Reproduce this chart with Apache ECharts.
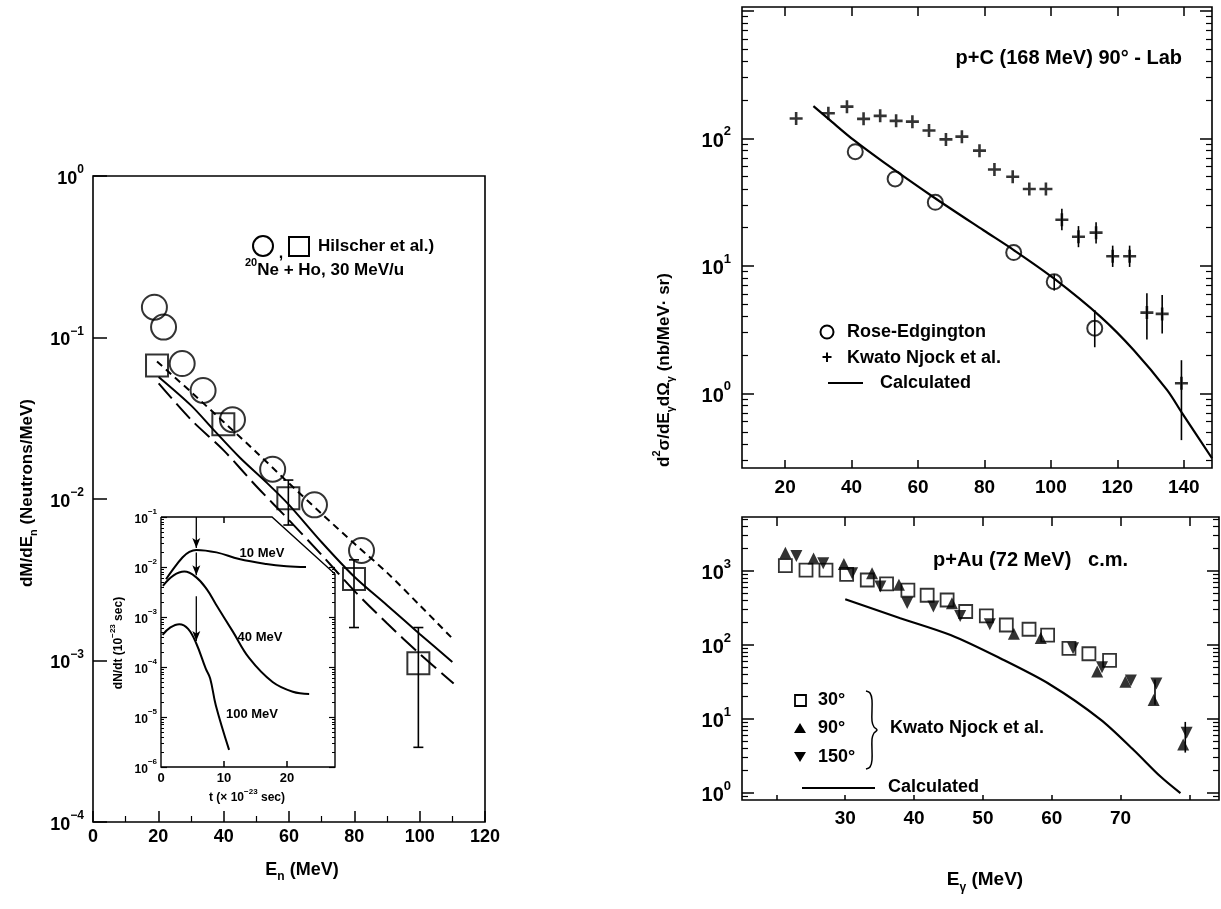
<!DOCTYPE html>
<html>
<head>
<meta charset="utf-8">
<script src="https://cdn.jsdelivr.net/npm/echarts@6/dist/echarts.min.js"></script>
<style>
  html, body { margin: 0; background: #fff; }
  #main { width: 1221px; height: 909px; }
</style>
</head>
<body>
<div id="main"></div>
<script>
// ---------- left panel: 20Ne + Ho, neutron spectra ----------
const hilscherCircles = [[18.8, 0.154], [21.6, 0.116], [27.3, 0.069], [33.7, 0.047], [42.7, 0.031], [55, 0.0153], [67.8, 0.0092], [82.2, 0.0048]];
const hilscherSquares = [[19.6, 0.067], [39.9, 0.029], [59.8, 0.0101], [79.9, 0.0032], [99.6, 0.00096]];
const hilscherErrors = [[59.8, 0.0069, 0.0131], [79.9, 0.0016, 0.0042], [99.6, 0.00029, 0.0016]];
const curveShortDash = [[19.6, 0.071], [30, 0.046], [40, 0.030], [50, 0.0195], [60, 0.0125], [70, 0.0081], [80, 0.0053], [90, 0.0035], [100, 0.0022], [110, 0.00137]];
const curveSolid = [[20.1, 0.057], [30, 0.038], [37, 0.0267], [45, 0.018], [53.4, 0.0125], [60, 0.0092], [70, 0.0054], [80, 0.0033], [90, 0.0022], [100, 0.00146], [110, 0.00098]];
const curveLongDash = [[20.1, 0.052], [30, 0.031], [40, 0.020], [50, 0.012], [60, 0.0074], [70, 0.0045], [80, 0.0027], [90, 0.0017], [100, 0.0011], [110.4, 0.00072]];
const leftDecades = [1e-4, 1e-3, 1e-2, 1e-1, 1];

// inset: dN/dt versus time
const inset10 = [[0.8, 0.0057], [1.7, 0.0083], [3.4, 0.0155], [4.5, 0.020], [5.6, 0.022], [8.8, 0.0196], [12.4, 0.0144], [16.7, 0.0115], [19.9, 0.0104], [23, 0.010]];
const inset40 = [[0.3, 0.0042], [2, 0.0068], [3.7, 0.0081], [5.6, 0.0062], [7.25, 0.0036], [8.7, 0.0018], [11.4, 5.1e-4], [14, 1.5e-4], [17.7, 5e-5], [20.9, 3.2e-5], [23.5, 2.9e-5]];
const inset100 = [[0.25, 4.4e-4], [1.5, 6.2e-4], [2.9, 7.2e-4], [4.3, 5.8e-4], [5.6, 2.95e-4], [7.1, 9.3e-5], [7.8, 5.9e-5], [8.7, 1.7e-5], [10.8, 2.2e-6]];
const insetArrows = [[5.6, 0.1, 0.024], [5.6, 0.0195, 0.0068], [5.6, 0.0026, 0.00033]];
const tTicks = [0, 10, 20];
const insetDecades = [1e-6, 1e-5, 1e-4, 1e-3, 1e-2, 1e-1];

// ---------- top right: p+C (168 MeV) ----------
const roseEdgington = [[41.1, 78.5], [53.1, 48], [65.2, 31.5], [88.8, 12.7], [101, 7.5], [113.2, 3.24]];
const roseErrors = [[101, 6.4, 8.6], [113.2, 2.3, 4.5]];
const kwatoC = [[23.3, 143], [33.0, 157], [38.6, 177], [43.6, 142], [48.6, 150], [53.4, 137], [58.3, 135], [63.3, 115], [68.4, 98], [73.2, 103], [78.5, 80], [83.0, 57], [88.5, 50], [93.5, 40], [98.5, 40], [103.3, 23], [108.3, 16.9], [113.6, 18.2], [118.6, 11.9], [123.7, 11.9], [128.9, 4.3], [133.5, 4.2], [139.3, 1.2]];
const kwatoCErrors = [[103.3, 19, 28], [108.3, 14, 20.5], [113.6, 15, 22], [118.6, 9.8, 14.4], [123.7, 9.8, 14.4], [128.9, 2.65, 6.1], [133.5, 2.95, 5.9], [139.3, 0.43, 1.82]];
const calcC = [[28.5, 179], [34, 135], [40.6, 97], [49.6, 65], [64.7, 34.5], [79.7, 19], [88.8, 13.3], [100.8, 8.0], [114.9, 4.0], [124.9, 2.19], [135, 1.06], [139.5, 0.70], [148.5, 0.31]];
const egTopTicks = [20, 40, 60, 80, 100, 120, 140];
const topDecades = [1, 10, 100];

// ---------- bottom right: p+Au (72 MeV) ----------
const au30 = [[21.3, 1180], [24.3, 1030], [27.2, 1030], [30.2, 900], [33.2, 755], [36, 670], [39.1, 550], [41.9, 470], [44.8, 405], [47.5, 283], [50.5, 247], [53.4, 186], [56.7, 163], [59.4, 136], [62.5, 90], [65.4, 76], [68.4, 62]];
const au90 = [[21.3, 1770], [25.4, 1480], [29.8, 1240], [33.9, 930], [37.8, 650], [45.5, 365], [54.5, 142], [58.4, 124], [66.6, 43.7], [70.7, 31.7], [74.8, 18], [79.1, 4.5]];
const au150 = [[22.9, 1590], [26.8, 1270], [31, 930], [35.1, 615], [39, 370], [42.8, 330], [46.7, 247], [51, 190], [63.1, 90], [67.3, 50], [71.5, 33], [75.2, 30], [79.6, 6.5]];
const auErrors = [[75, 15.5, 34], [79.4, 3.5, 9.1]];
const calcAu = [[30, 415], [38, 230], [45.3, 136], [52.5, 66], [59.8, 29], [67.1, 9.8], [71.9, 3.8], [75.8, 1.66], [78.7, 0.99]];
const egBotTicks = [30, 40, 50, 60, 70];
const egBotTickMarks = [20, 30, 40, 50, 60, 70, 80];
const botDecades = [1, 10, 100, 1000];

const minorMult = [2, 3, 4, 5, 6, 7, 8, 9];

const FONT = '"Liberation Sans", Arial, sans-serif';

function minorLog(lo, hi) {
  const out = [];
  for (let k = Math.floor(Math.log10(lo)); k <= Math.ceil(Math.log10(hi)); k++) {
    minorMult.forEach(function (m) {
      const v = m * Math.pow(10, k);
      if (v > lo && v < hi) out.push(v);
    });
  }
  return out;
}

function fmtPow(v) {
  const e = Math.round(Math.log10(v));
  return '{b|10}{s|' + (e < 0 ? '\u2212' + (-e) : e) + '}';
}

function powRich(bs, ss) {
  return {
    b: { fontFamily: FONT, fontWeight: 'bold', fontSize: bs, color: '#000', lineHeight: bs + 6, verticalAlign: 'bottom' },
    s: { fontFamily: FONT, fontWeight: 'bold', fontSize: ss, color: '#000', lineHeight: ss, verticalAlign: 'top' }
  };
}

const textRich = function (bs) {
  return {
    b: { fontFamily: FONT, fontWeight: 'bold', fontSize: bs, fill: '#000', lineHeight: bs + 8, verticalAlign: 'middle' },
    sub: { fontFamily: FONT, fontWeight: 'bold', fontSize: Math.round(bs * 0.65), fill: '#000', lineHeight: bs + 8, verticalAlign: 'bottom' },
    sup: { fontFamily: FONT, fontWeight: 'bold', fontSize: Math.round(bs * 0.65), fill: '#000', lineHeight: Math.round(bs * 0.65), verticalAlign: 'top' }
  };
};

const black = { color: '#000', width: 1.5 };

function xAxisOf(grid, min, max, tickVals, labelVals, opt) {
  opt = opt || {};
  return {
    gridIndex: grid, type: 'value', min: min, max: max, position: opt.top ? 'top' : 'bottom',
    axisLine: { show: false },
    splitLine: { show: false },
    axisTick: { show: true, inside: true, length: opt.tickLen || 9, customValues: tickVals, lineStyle: black },
    axisLabel: labelVals ? {
      show: true, customValues: labelVals, color: '#000', fontFamily: FONT, fontWeight: 'bold',
      fontSize: opt.fontSize || 18, margin: opt.margin || 8
    } : { show: false }
  };
}

function yLogOf(grid, min, max, tickVals, labelVals, opt) {
  opt = opt || {};
  return {
    gridIndex: grid, type: 'log', logBase: 10, min: min, max: max, position: opt.right ? 'right' : 'left',
    axisLine: { show: false },
    splitLine: { show: false },
    axisTick: { show: true, inside: true, length: opt.tickLen || 10, customValues: tickVals, lineStyle: { color: '#000', width: opt.tickWidth || 1.5 } },
    axisLabel: labelVals ? {
      show: true, customValues: labelVals, formatter: fmtPow, rich: powRich(opt.bs || 18, opt.ss || 12), margin: opt.margin || 8
    } : { show: false }
  };
}

function errorBars(capHalf) {
  return function (params, api) {
    const hi = api.coord([api.value(0), api.value(2)]);
    const lo = api.coord([api.value(0), api.value(1)]);
    const st = { stroke: '#000', lineWidth: 1.6 };
    const children = [{ type: 'line', shape: { x1: hi[0], y1: hi[1], x2: lo[0], y2: lo[1] }, style: st }];
    if (capHalf) {
      children.push({ type: 'line', shape: { x1: hi[0] - capHalf, y1: hi[1], x2: hi[0] + capHalf, y2: hi[1] }, style: st });
      children.push({ type: 'line', shape: { x1: lo[0] - capHalf, y1: lo[1], x2: lo[0] + capHalf, y2: lo[1] }, style: st });
    }
    return { type: 'group', children: children };
  };
}

function arrowData(a) {
  return [{ value: [a[0], a[1]], symbol: 'none' }, { value: [a[0], a[2]], symbol: 'arrow', symbolSize: [6, 10], symbolRotate: 180 }];
}

const hollow = { color: 'rgba(0,0,0,0)', borderColor: '#000', borderWidth: 2 };
const plusPath = 'path://M4,0H6V4H10V6H6V10H4V6H0V4H4Z';

// inset box (clipped upper-right corner)
const inset = { left: 161, top: 517, width: 174, height: 250, cutX: 111, cutY: 57 };

const chart = echarts.init(document.getElementById('main'));

const option = {
  backgroundColor: '#fff',
  animation: false,
  grid: [
    { left: 93, top: 176, width: 392, height: 646, show: true, borderColor: '#000', borderWidth: 1.6 },
    { left: inset.left, top: inset.top, width: inset.width, height: inset.height, show: false },
    { left: 742, top: 7, width: 470, height: 461, show: true, borderColor: '#000', borderWidth: 1.6 },
    { left: 742, top: 517, width: 477, height: 283, show: true, borderColor: '#000', borderWidth: 1.6 }
  ],
  xAxis: [
    {
      gridIndex: 0, type: 'value', min: 0, max: 120, interval: 20,
      axisLine: { show: false }, splitLine: { show: false },
      axisTick: { inside: true, length: 11, lineStyle: black },
      minorTick: { show: true, splitNumber: 2, length: 6, lineStyle: { color: '#000', width: 1.2 } },
      axisLabel: { color: '#000', fontFamily: FONT, fontWeight: 'bold', fontSize: 18, margin: 6 }
    },
    xAxisOf(1, 0, 27.6, [10, 20], tTicks, { tickLen: 6, fontSize: 13, margin: 5 }),
    xAxisOf(1, 0, 27.6, [10], null, { top: true, tickLen: 6 }),
    xAxisOf(2, 7, 148.5, egTopTicks, egTopTicks, { tickLen: 8, fontSize: 19, margin: 10 }),
    xAxisOf(2, 7, 148.5, egTopTicks, null, { top: true, tickLen: 9 }),
    xAxisOf(3, 15, 84.3, egBotTickMarks, egBotTicks, { tickLen: 5, fontSize: 19, margin: 9 }),
    xAxisOf(3, 15, 84.3, egBotTickMarks, null, { top: true, tickLen: 9 })
  ],
  yAxis: [
    yLogOf(0, 1e-4, 1, leftDecades, leftDecades, { tickLen: 14, bs: 18, ss: 12, margin: 9 }),
    yLogOf(1, 1e-6, 1e-1, insetDecades, insetDecades, { tickLen: 6, bs: 12, ss: 8, margin: 4, tickWidth: 1.2 }),
    yLogOf(1, 1e-6, 1e-1, minorLog(1e-6, 1e-1), null, { tickLen: 3, tickWidth: 1 }),
    yLogOf(1, 1e-6, 1e-1, insetDecades.slice(0, 5), null, { right: true, tickLen: 6, tickWidth: 1.2 }),
    yLogOf(1, 1e-6, 1e-1, minorLog(1e-6, 1e-2), null, { right: true, tickLen: 3, tickWidth: 1 }),
    yLogOf(2, 0.26, 1070, [1, 10, 100, 1000], topDecades, { tickLen: 12, bs: 20, ss: 13, margin: 11 }),
    yLogOf(2, 0.26, 1070, minorLog(0.26, 1070), null, { tickLen: 6, tickWidth: 1.2 }),
    yLogOf(2, 0.26, 1070, [1, 10, 100, 1000], null, { right: true, tickLen: 12 }),
    yLogOf(2, 0.26, 1070, minorLog(0.26, 1070), null, { right: true, tickLen: 6, tickWidth: 1.2 }),
    yLogOf(3, 0.8, 5370, botDecades, botDecades, { tickLen: 12, bs: 20, ss: 13, margin: 11 }),
    yLogOf(3, 0.8, 5370, minorLog(0.8, 5370), null, { tickLen: 6, tickWidth: 1.2 }),
    yLogOf(3, 0.8, 5370, botDecades, null, { right: true, tickLen: 12 }),
    yLogOf(3, 0.8, 5370, minorLog(0.8, 5370), null, { right: true, tickLen: 6, tickWidth: 1.2 })
  ],
  series: [
    // left main panel
    { type: 'line', xAxisIndex: 0, yAxisIndex: 0, data: curveShortDash, smooth: 0.3, showSymbol: false, lineStyle: { color: '#000', width: 2, type: [7, 5] }, z: 2 },
    { type: 'line', xAxisIndex: 0, yAxisIndex: 0, data: curveSolid, smooth: 0.3, showSymbol: false, lineStyle: { color: '#000', width: 2 }, z: 2 },
    { type: 'line', xAxisIndex: 0, yAxisIndex: 0, data: curveLongDash, smooth: 0.3, showSymbol: false, lineStyle: { color: '#000', width: 2, type: [20, 7] }, z: 2 },
    { type: 'custom', xAxisIndex: 0, yAxisIndex: 0, data: hilscherErrors, encode: { x: 0, y: [1, 2] }, renderItem: errorBars(5), z: 3 },
    { type: 'scatter', xAxisIndex: 0, yAxisIndex: 0, data: hilscherCircles, symbol: 'circle', symbolSize: 25, itemStyle: hollow, z: 4 },
    { type: 'scatter', xAxisIndex: 0, yAxisIndex: 0, data: hilscherSquares, symbol: 'rect', symbolSize: 22, itemStyle: hollow, z: 4 },

    // inset
    { type: 'line', xAxisIndex: 1, yAxisIndex: 1, data: inset10, smooth: 0.4, showSymbol: false, lineStyle: { color: '#000', width: 2 } },
    { type: 'line', xAxisIndex: 1, yAxisIndex: 1, data: inset40, smooth: 0.4, showSymbol: false, lineStyle: { color: '#000', width: 2 } },
    { type: 'line', xAxisIndex: 1, yAxisIndex: 1, data: inset100, smooth: 0.4, showSymbol: false, lineStyle: { color: '#000', width: 2 } }
  ].concat(insetArrows.map(function (a) {
    return { type: 'line', xAxisIndex: 1, yAxisIndex: 1, data: arrowData(a), symbol: 'none', showSymbol: true,
      itemStyle: { color: '#000' }, lineStyle: { color: '#000', width: 1.3 } };
  })).concat([
    // top right
    { type: 'line', xAxisIndex: 3, yAxisIndex: 5, data: calcC, smooth: 0.3, showSymbol: false, lineStyle: { color: '#000', width: 2.2 } },
    { type: 'custom', xAxisIndex: 3, yAxisIndex: 5, data: roseErrors.concat(kwatoCErrors), encode: { x: 0, y: [1, 2] }, renderItem: errorBars(0) },
    { type: 'scatter', xAxisIndex: 3, yAxisIndex: 5, data: roseEdgington, symbol: 'circle', symbolSize: 15, itemStyle: hollow },
    { type: 'scatter', xAxisIndex: 3, yAxisIndex: 5, data: kwatoC, symbol: plusPath, symbolSize: 13, itemStyle: { color: '#000' } },

    // bottom right
    { type: 'line', xAxisIndex: 5, yAxisIndex: 9, data: calcAu, smooth: 0.3, showSymbol: false, lineStyle: { color: '#000', width: 2.2 } },
    { type: 'custom', xAxisIndex: 5, yAxisIndex: 9, data: auErrors, encode: { x: 0, y: [1, 2] }, renderItem: errorBars(0) },
    { type: 'scatter', xAxisIndex: 5, yAxisIndex: 9, data: au30, symbol: 'rect', symbolSize: 13, itemStyle: { color: 'rgba(0,0,0,0)', borderColor: '#000', borderWidth: 1.8 } },
    { type: 'scatter', xAxisIndex: 5, yAxisIndex: 9, data: au90, symbol: 'triangle', symbolSize: 12, itemStyle: { color: '#000' } },
    { type: 'scatter', xAxisIndex: 5, yAxisIndex: 9, data: au150, symbol: 'triangle', symbolRotate: 180, symbolSize: 12, itemStyle: { color: '#000' } }
  ]),
  graphic: [
    // inset frame with its clipped corner
    {
      type: 'polyline', silent: true, z: 10,
      shape: { points: [
        [inset.left, inset.top],
        [inset.left + inset.cutX, inset.top],
        [inset.left + inset.width, inset.top + inset.cutY],
        [inset.left + inset.width, inset.top + inset.height],
        [inset.left, inset.top + inset.height],
        [inset.left, inset.top]
      ] },
      style: { stroke: '#000', lineWidth: 1.4, fill: null }
    },
    // left legend
    { type: 'circle', shape: { cx: 263, cy: 246, r: 10 }, style: { fill: null, stroke: '#000', lineWidth: 2 } },
    { type: 'text', x: 281, y: 254, style: { text: ',', font: 'bold 16px ' + FONT, fill: '#000', align: 'center', verticalAlign: 'middle' } },
    { type: 'rect', shape: { x: 289, y: 237, width: 20, height: 19 }, style: { fill: null, stroke: '#000', lineWidth: 2 } },
    { type: 'text', x: 318, y: 246, style: { text: 'Hilscher et al.)', font: 'bold 17px ' + FONT, fill: '#000', verticalAlign: 'middle' } },
    { type: 'text', x: 245, y: 270, style: { text: '{sup|20}{b|Ne + Ho, 30 MeV/u}', rich: textRich(17), verticalAlign: 'middle' } },

    // inset labels
    { type: 'text', x: 262, y: 553, style: { text: '10 MeV', font: 'bold 13px ' + FONT, fill: '#000', align: 'center', verticalAlign: 'middle' } },
    { type: 'text', x: 260, y: 637, style: { text: '40 MeV', font: 'bold 13px ' + FONT, fill: '#000', align: 'center', verticalAlign: 'middle' } },
    { type: 'text', x: 252, y: 714, style: { text: '100 MeV', font: 'bold 13px ' + FONT, fill: '#000', align: 'center', verticalAlign: 'middle' } },
    { type: 'text', x: 247, y: 798, style: { text: '{b|t (\u00d7 10}{sup|\u221223}{b| sec)}', rich: textRich(12), align: 'center', verticalAlign: 'middle' } },
    { type: 'text', x: 119, y: 643, rotation: Math.PI / 2, style: { text: '{b|dN/dt (10}{sup|\u221223}{b| sec)}', rich: textRich(12), align: 'center', verticalAlign: 'middle' } },

    // left axis names
    { type: 'text', x: 302, y: 870, style: { text: '{b|E}{sub|n}{b| (MeV)}', rich: textRich(18), align: 'center', verticalAlign: 'middle' } },
    { type: 'text', x: 27, y: 493, rotation: Math.PI / 2, style: { text: '{b|dM/dE}{sub|n}{b| (Neutrons/MeV)}', rich: textRich(17), align: 'center', verticalAlign: 'middle' } },

    // top right annotation and legend
    { type: 'text', x: 1182, y: 58, style: { text: 'p+C (168 MeV) 90\u00b0 - Lab', font: 'bold 20px ' + FONT, fill: '#000', align: 'right', verticalAlign: 'middle' } },
    { type: 'circle', shape: { cx: 827, cy: 332, r: 6.5 }, style: { fill: null, stroke: '#000', lineWidth: 2 } },
    { type: 'text', x: 847, y: 332, style: { text: 'Rose-Edgington', font: 'bold 18px ' + FONT, fill: '#000', verticalAlign: 'middle' } },
    { type: 'text', x: 827, y: 358, style: { text: '+', font: 'bold 18px ' + FONT, fill: '#000', align: 'center', verticalAlign: 'middle' } },
    { type: 'text', x: 847, y: 358, style: { text: 'Kwato Njock et al.', font: 'bold 18px ' + FONT, fill: '#000', verticalAlign: 'middle' } },
    { type: 'line', shape: { x1: 828, y1: 383, x2: 863, y2: 383 }, style: { stroke: '#000', lineWidth: 2 } },
    { type: 'text', x: 880, y: 383, style: { text: 'Calculated', font: 'bold 18px ' + FONT, fill: '#000', verticalAlign: 'middle' } },

    // right axis names
    { type: 'text', x: 664, y: 370, rotation: Math.PI / 2, style: { text: '{b|d}{sup|2}{b|\u03c3/dE}{sub|\u03b3}{b|d\u03a9}{sub|\u03b3}{b| (nb/MeV\u00b7 sr)}', rich: textRich(17), align: 'center', verticalAlign: 'middle' } },
    { type: 'text', x: 985, y: 880, style: { text: '{b|E}{sub|\u03b3}{b| (MeV)}', rich: textRich(19), align: 'center', verticalAlign: 'middle' } },

    // bottom right annotation and legend
    { type: 'text', x: 933, y: 560, style: { text: 'p+Au (72 MeV)   c.m.', font: 'bold 20px ' + FONT, fill: '#000', verticalAlign: 'middle' } },
    { type: 'rect', shape: { x: 795, y: 695, width: 11, height: 11 }, style: { fill: null, stroke: '#000', lineWidth: 1.8 } },
    { type: 'text', x: 818, y: 700, style: { text: '30\u00b0', font: 'bold 18px ' + FONT, fill: '#000', verticalAlign: 'middle' } },
    { type: 'polygon', shape: { points: [[800, 723], [806, 733], [794, 733]] }, style: { fill: '#000' } },
    { type: 'text', x: 818, y: 728, style: { text: '90\u00b0', font: 'bold 18px ' + FONT, fill: '#000', verticalAlign: 'middle' } },
    { type: 'polygon', shape: { points: [[794, 752], [806, 752], [800, 762]] }, style: { fill: '#000' } },
    { type: 'text', x: 818, y: 757, style: { text: '150\u00b0', font: 'bold 18px ' + FONT, fill: '#000', verticalAlign: 'middle' } },
    {
      type: 'polyline', x: 866, y: 691,
      shape: { smooth: 0.35, points: [[0, 0], [4, 2], [6, 9], [6, 30], [8, 36], [11, 39], [8, 42], [6, 48], [6, 69], [4, 76], [0, 78]] },
      style: { fill: null, stroke: '#000', lineWidth: 1.5 }
    },
    { type: 'text', x: 890, y: 728, style: { text: 'Kwato Njock et al.', font: 'bold 18px ' + FONT, fill: '#000', verticalAlign: 'middle' } },
    { type: 'line', shape: { x1: 802, y1: 788, x2: 875, y2: 788 }, style: { stroke: '#000', lineWidth: 2 } },
    { type: 'text', x: 888, y: 787, style: { text: 'Calculated', font: 'bold 18px ' + FONT, fill: '#000', verticalAlign: 'middle' } }
  ]
};

chart.setOption(option);
</script>
</body>
</html>
